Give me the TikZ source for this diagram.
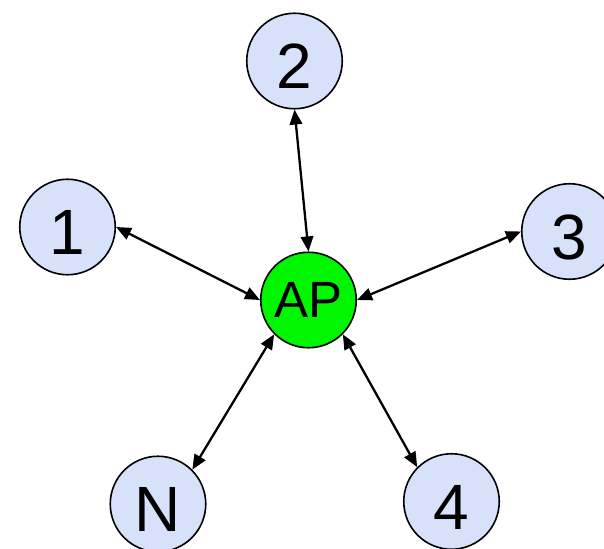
\documentclass[tikz,border=0pt]{standalone}
\usepackage{fontspec}
\setmainfont{Liberation Sans}
\usetikzlibrary{arrows.meta}
\definecolor{stationblue}{RGB}{215,225,250}
\definecolor{apgreen}{RGB}{0,245,0}
\begin{document}
\begin{tikzpicture}[x=1pt,y=-1pt,
  station/.style={circle, draw=black, line width=1.6pt, fill=stationblue,
    minimum size=95.5pt, inner sep=0pt,
    font=\fontsize{64}{64}\selectfont, text height=55pt, text depth=0pt},
  hub/.style={circle, draw=black, line width=1.6pt, fill=apgreen,
    minimum size=95.5pt, inner sep=0pt, font=\fontsize{51}{51}\selectfont},
  link/.style={line width=2.3pt,
    {Triangle[length=15pt,width=12.5pt]}-{Triangle[length=15pt,width=12.5pt]}}]
  % canvas (outer circles run off the right and bottom edges)
  \clip (0,0) rectangle (604,548);

  % access point and stations
  \node[hub]     (ap) at (308.5,300)  {AP};
  \node[station] (n1) at (67.5,227)   {1};
  \node[station] (n2) at (294.5,61)   {2};
  \node[station] (n3) at (569.5,231.5){3};
  \node[station] (nN) at (158,504)    {N};
  \node[station] (n4) at (451.5,501.5){4};

  % two-way links to the access point
  \draw[link] (n1.east)       -- (ap.west);
  \draw[link] (n2.south)      -- (ap.north);
  \draw[link] (n3.west)       -- (ap.east);
  \draw[link] (nN.north east) -- (ap.south west);
  \draw[link] (n4.north west) -- (ap.south east);
\end{tikzpicture}
\end{document}
